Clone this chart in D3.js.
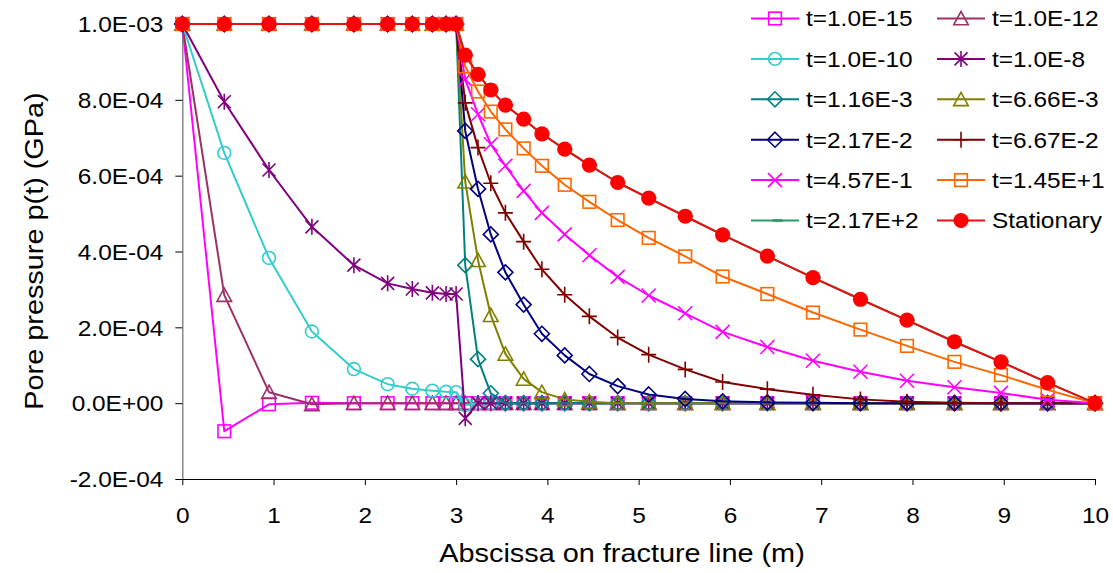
<!DOCTYPE html>
<html><head><meta charset="utf-8">
<script src="https://cdn.jsdelivr.net/npm/d3@7"></script>
<style>
body{margin:0;background:#fff;}
svg{display:block;}
text{font-family:"Liberation Sans", Arial, sans-serif; fill:#000;}
</style>
</head><body>
<svg id="c" width="1113" height="573"></svg>
<script>
// ---------- DATA ----------
const xNodes = [0, 0.46, 0.95, 1.42, 1.88, 2.25, 2.52, 2.74, 2.89, 3.0,
  3.10, 3.24, 3.38, 3.54, 3.74, 3.94, 4.19, 4.46, 4.77, 5.11,
  5.51, 5.92, 6.41, 6.91, 7.43, 7.94, 8.46, 8.97, 9.48, 10];

const xTicks = [0,1,2,3,4,5,6,7,8,9,10];
const yTicks = [-2.0e-4, 0, 2.0e-4, 4.0e-4, 6.0e-4, 8.0e-4, 1.0e-3];

const p_t1e15 = [1.0e-3, -7.4e-5, -3e-6, 1e-6, 0, 0, 0, 0, 0, 0,
  0, 0, 0, 0, 0, 0, 0, 0, 0, 0, 0, 0, 0, 0, 0, 0, 0, 0, 0, 0];
const p_t1e12 = [1.0e-3, 2.85e-4, 2.9e-5, -3e-6, 0, 0, 0, 0, 0, 0,
  0, 0, 0, 0, 0, 0, 0, 0, 0, 0, 0, 0, 0, 0, 0, 0, 0, 0, 0, 0];
const p_t1e10 = [1.0e-3, 6.60e-4, 3.83e-4, 1.89e-4, 9.0e-5, 5.0e-5, 3.8e-5, 3.3e-5, 3.0e-5, 2.9e-5,
  -5e-6, 0, 0, 0, 0, 0, 0, 0, 0, 0, 0, 0, 0, 0, 0, 0, 0, 0, 0, 0];
const p_t1e8 = [1.0e-3, 7.95e-4, 6.15e-4, 4.65e-4, 3.64e-4, 3.16e-4, 3.01e-4, 2.91e-4, 2.88e-4, 2.88e-4,
  -4.0e-5, 0, 0, 0, 0, 0, 0, 0, 0, 0, 0, 0, 0, 0, 0, 0, 0, 0, 0, 0];
const p_t116e3 = [1.0e-3, 1.0e-3, 1.0e-3, 1.0e-3, 1.0e-3, 1.0e-3, 1.0e-3, 1.0e-3, 1.0e-3, 1.0e-3,
  3.64e-4, 1.16e-4, 2.6e-5, 0, 0, 0, 0, 0, 0, 0, 0, 0, 0, 0, 0, 0, 0, 0, 0, 0];
const p_t666e3 = [1.0e-3, 1.0e-3, 1.0e-3, 1.0e-3, 1.0e-3, 1.0e-3, 1.0e-3, 1.0e-3, 1.0e-3, 1.0e-3,
  5.84e-4, 3.77e-4, 2.32e-4, 1.30e-4, 6.4e-5, 2.9e-5, 1.0e-5, 4e-6, 0, 0, 0, 0, 0, 0, 0, 0, 0, 0, 0, 0];
const p_t217e2m = [1.0e-3, 1.0e-3, 1.0e-3, 1.0e-3, 1.0e-3, 1.0e-3, 1.0e-3, 1.0e-3, 1.0e-3, 1.0e-3,
  7.18e-4, 5.65e-4, 4.45e-4, 3.45e-4, 2.60e-4, 1.83e-4, 1.26e-4, 7.7e-5, 4.5e-5, 2.3e-5,
  1.1e-5, 5e-6, 2e-6, 1e-6, 0, 0, 0, 0, 0, 0];
const p_t667e2m = [1.0e-3, 1.0e-3, 1.0e-3, 1.0e-3, 1.0e-3, 1.0e-3, 1.0e-3, 1.0e-3, 1.0e-3, 1.0e-3,
  7.92e-4, 6.74e-4, 5.80e-4, 5.02e-4, 4.26e-4, 3.53e-4, 2.86e-4, 2.29e-4, 1.73e-4, 1.28e-4,
  8.9e-5, 5.6e-5, 3.7e-5, 2.2e-5, 1.0e-5, 4e-6, 1e-6, 0, 0, 0];
const p_t457e1m = [1.0e-3, 1.0e-3, 1.0e-3, 1.0e-3, 1.0e-3, 1.0e-3, 1.0e-3, 1.0e-3, 1.0e-3, 1.0e-3,
  8.54e-4, 7.62e-4, 6.83e-4, 6.26e-4, 5.60e-4, 5.02e-4, 4.45e-4, 3.90e-4, 3.33e-4, 2.84e-4,
  2.37e-4, 1.88e-4, 1.48e-4, 1.12e-4, 8.3e-5, 5.9e-5, 4.2e-5, 2.7e-5, 9e-6, 0];
const p_t145e1 = [1.0e-3, 1.0e-3, 1.0e-3, 1.0e-3, 1.0e-3, 1.0e-3, 1.0e-3, 1.0e-3, 1.0e-3, 1.0e-3,
  8.88e-4, 8.22e-4, 7.69e-4, 7.22e-4, 6.72e-4, 6.26e-4, 5.76e-4, 5.31e-4, 4.83e-4, 4.36e-4,
  3.87e-4, 3.34e-4, 2.88e-4, 2.39e-4, 1.94e-4, 1.51e-4, 1.09e-4, 7.4e-5, 3.5e-5, 0];
const p_t217e2 = [1.0e-3, 1.0e-3, 1.0e-3, 1.0e-3, 1.0e-3, 1.0e-3, 1.0e-3, 1.0e-3, 1.0e-3, 1.0e-3,
  9.18e-4, 8.67e-4, 8.26e-4, 7.86e-4, 7.49e-4, 7.10e-4, 6.70e-4, 6.28e-4, 5.82e-4, 5.41e-4,
  4.93e-4, 4.44e-4, 3.88e-4, 3.31e-4, 2.74e-4, 2.19e-4, 1.62e-4, 1.09e-4, 5.4e-5, 0];
const p_stationary = [1.0e-3, 1.0e-3, 1.0e-3, 1.0e-3, 1.0e-3, 1.0e-3, 1.0e-3, 1.0e-3, 1.0e-3, 1.0e-3,
  9.18e-4, 8.67e-4, 8.26e-4, 7.86e-4, 7.49e-4, 7.10e-4, 6.70e-4, 6.28e-4, 5.82e-4, 5.41e-4,
  4.93e-4, 4.44e-4, 3.88e-4, 3.31e-4, 2.74e-4, 2.19e-4, 1.62e-4, 1.09e-4, 5.4e-5, 0];

const seriesNames = ["t=1.0E-15","t=1.0E-12","t=1.0E-10","t=1.0E-8","t=1.16E-3","t=6.66E-3",
  "t=2.17E-2","t=6.67E-2","t=4.57E-1","t=1.45E+1","t=2.17E+2","Stationary"];
const seriesValues = [p_t1e15,p_t1e12,p_t1e10,p_t1e8,p_t116e3,p_t666e3,
  p_t217e2m,p_t667e2m,p_t457e1m,p_t145e1,p_t217e2,p_stationary];

// ---------- STYLE ----------
const seriesColors = ["#FF00FF","#993366","#33CCCC","#800080","#008080","#808000",
  "#000080","#800000","#FF00FF","#FF6600","#339966","#FF0000"];
const lineColors = ["#FF00FF","#993366","#33CCCC","#800080","#008080","#808000",
  "#000080","#800000","#FF00FF","#FF6600","#339966","#E81010"];
const seriesMarkers = ["square","triangle","circle","star","diamond","triangle",
  "diamond","plus","x","square","dash","dot"];

const FS = 22, SX = 1.11;       // tick/legend font & horizontal stretch
const TFS = 26, TSX = 1.11;     // title font & stretch

const svg = d3.select("#c");
const x = d3.scaleLinear().domain([0,10]).range([182.3,1095]);
const y = d3.scaleLinear().domain([-2e-4,1e-3]).range([479,24]);

function fmtE(v){
  if (Math.abs(v) < 1e-12) v = 0;
  const s = v.toExponential(1);
  const [m, e] = s.split("e");
  const sign = e[0] === "-" ? "-" : "+";
  const digits = e.replace(/[+-]/,"").padStart(2,"0");
  return m + "E" + sign + digits;
}

// ---------- AXES ----------
const yAxis = svg.append("g").attr("transform","translate(182.3,0)")
  .call(d3.axisLeft(y).tickValues(yTicks).tickSize(7).tickSizeOuter(0).tickFormat(fmtE));
yAxis.select(".domain").attr("stroke","#808080").attr("stroke-width",1.4);
yAxis.selectAll(".tick line").attr("stroke","#000");
yAxis.selectAll(".tick text")
  .attr("x",0).attr("dy","0.35em")
  .attr("transform",`translate(-19,0) scale(${SX},1)`)
  .style("font-size",FS+"px").style("font-family",'"Liberation Sans", Arial, sans-serif')
  .attr("fill","#000");

const xAxis = svg.append("g").attr("transform","translate(0,479)")
  .call(d3.axisBottom(x).tickValues(xTicks).tickSize(6).tickSizeOuter(0).tickFormat(d3.format("d")));
xAxis.select(".domain").attr("stroke","#000").attr("stroke-width",1.2);
xAxis.selectAll(".tick line").attr("stroke","#000");
xAxis.selectAll(".tick text")
  .attr("y",0).attr("dy",null)
  .attr("transform",`translate(0,44) scale(${SX},1)`)
  .style("font-size",FS+"px").style("font-family",'"Liberation Sans", Arial, sans-serif')
  .attr("fill","#000");

svg.append("text")
  .attr("transform",`translate(43,251) rotate(-90) scale(${TSX},1)`)
  .attr("text-anchor","middle")
  .style("font-size",TFS+"px")
  .text("Pore pressure p(t) (GPa)");

svg.append("text")
  .attr("transform",`translate(622,562) scale(${TSX},1)`)
  .attr("text-anchor","middle")
  .style("font-size",TFS+"px")
  .text("Abscissa on fracture line (m)");

// ---------- MARKERS ----------
function drawMarker(g, type, color){
  const sw = 1.6;
  switch(type){
    case "square":
      g.append("rect").attr("x",-6.3).attr("y",-6.3).attr("width",12.6).attr("height",12.6)
        .attr("fill","none").attr("stroke",color).attr("stroke-width",sw); break;
    case "triangle":
      g.append("path").attr("d","M0,-7L7.3,6.3L-7.3,6.3Z")
        .attr("fill","none").attr("stroke",color).attr("stroke-width",sw); break;
    case "circle":
      g.append("circle").attr("r",6.4)
        .attr("fill","none").attr("stroke",color).attr("stroke-width",sw); break;
    case "diamond":
      g.append("path").attr("d","M0,-7.5L7.5,0L0,7.5L-7.5,0Z")
        .attr("fill","none").attr("stroke",color).attr("stroke-width",sw); break;
    case "star":
      g.append("path").attr("d","M-6.5,-6.5L6.5,6.5M-6.5,6.5L6.5,-6.5M0,-8L0,8")
        .attr("fill","none").attr("stroke",color).attr("stroke-width",sw); break;
    case "plus":
      g.append("path").attr("d","M-7.5,0L7.5,0M0,-8L0,8")
        .attr("fill","none").attr("stroke",color).attr("stroke-width",sw); break;
    case "x":
      g.append("path").attr("d","M-7,-7L7,7M-7,7L7,-7")
        .attr("fill","none").attr("stroke",color).attr("stroke-width",sw); break;
    case "dash":
      g.append("rect").attr("x",-2.3).attr("y",-1.4).attr("width",10).attr("height",2.8)
        .attr("fill",color); break;
    case "dot":
      g.append("circle").attr("r",7.6).attr("fill",color); break;
  }
}

// ---------- SERIES ----------
const line = d3.line().x((d,i)=>x(xNodes[i])).y(d=>y(d));
const plot = svg.append("g");
seriesValues.forEach((vals, si)=>{
  const g = plot.append("g");
  g.append("path").datum(vals).attr("d",line)
    .attr("fill","none").attr("stroke",lineColors[si]).attr("stroke-width",2)
    .attr("stroke-linejoin","round");
  vals.forEach((v,i)=>{
    const m = g.append("g").attr("transform",`translate(${x(xNodes[i])},${y(v)})`);
    drawMarker(m, seriesMarkers[si], seriesColors[si]);
  });
});

// ---------- LEGEND ----------
const legCols = [751, 937];
const leg = svg.append("g");
seriesNames.forEach((name, si)=>{
  const col = si % 2, row = Math.floor(si/2);
  const lx = legCols[col], ly = 18.5 + row*40.4;
  const g = leg.append("g");
  g.append("line").attr("x1",lx).attr("x2",lx+48).attr("y1",ly).attr("y2",ly)
    .attr("stroke",lineColors[si]).attr("stroke-width",2);
  const m = g.append("g").attr("transform",`translate(${lx+24},${ly})`);
  drawMarker(m, seriesMarkers[si], seriesColors[si]);
  g.append("text").attr("transform",`translate(${lx+55},${ly+7.8}) scale(${SX},1)`)
    .style("font-size",FS+"px").text(name);
});
</script>
</body></html>
